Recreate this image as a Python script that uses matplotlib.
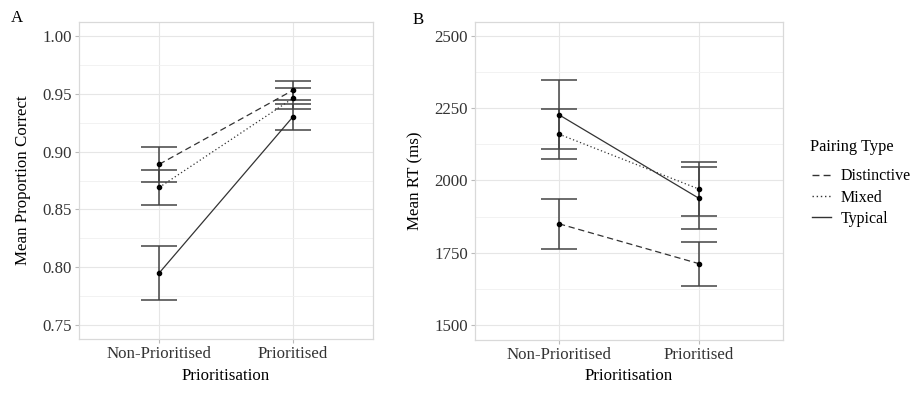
import numpy as np
import matplotlib
matplotlib.use("Agg")
import matplotlib.pyplot as plt
from matplotlib.lines import Line2D
from matplotlib.ticker import MultipleLocator

plt.rcParams["font.family"] = ["Liberation Serif", "DejaVu Serif"]

# ----------------------------------------------------------------------------
# Data
# ----------------------------------------------------------------------------
conditions = ["Non-Prioritised", "Prioritised"]
pairing_types = ["Distinctive", "Mixed", "Typical"]

acc_mean = {
    "Distinctive": [0.889, 0.953],
    "Mixed": [0.869, 0.946],
    "Typical": [0.795, 0.930],
}
acc_err = {
    "Distinctive": [0.015, 0.008],
    "Mixed": [0.015, 0.009],
    "Typical": [0.023, 0.011],
}

rt_mean = {
    "Distinctive": [1850, 1712],
    "Mixed": [2160, 1970],
    "Typical": [2227, 1938],
}
rt_err = {
    "Distinctive": [87, 76],
    "Mixed": [87, 93],
    "Typical": [119, 107],
}

linestyles = {"Distinctive": (0, (5, 3)), "Mixed": (0, (1, 2)), "Typical": "-"}

# ----------------------------------------------------------------------------
# Plot
# ----------------------------------------------------------------------------
W, H = 917, 394
FS = 12.2
fig = plt.figure(figsize=(W / 100, H / 100), dpi=100)


def px_axes(left, top, right, bottom):
    return fig.add_axes([left / W, 1 - bottom / H, (right - left) / W, (bottom - top) / H])


def style_axes(ax, major, minor):
    ax.set_facecolor("white")
    for s in ax.spines.values():
        s.set_color("#d9d9d9")
        s.set_linewidth(0.9)
    ax.yaxis.set_major_locator(MultipleLocator(major))
    ax.yaxis.set_minor_locator(MultipleLocator(minor))
    ax.grid(which="major", color="#e6e6e6", linewidth=0.8)
    ax.grid(which="minor", axis="y", color="#f0f0f0", linewidth=0.6)
    ax.tick_params(which="major", length=3, color="#bbbbbb", labelsize=FS,
                   labelcolor="#333333", pad=2)
    ax.tick_params(which="minor", length=0)
    ax.set_axisbelow(True)
    ax.set_xlim(0.4, 2.6)
    ax.set_xticks([1, 2])
    ax.set_xticklabels(conditions)
    ax.set_xlabel("Prioritisation", fontsize=FS, labelpad=4)


def draw(ax, means, errs):
    x = np.array([1, 2])
    for p in pairing_types:
        m = np.array(means[p], float)
        e = np.array(errs[p], float)
        ax.plot(x, m, color="#333333", lw=0.9, ls=linestyles[p], zorder=3)
        ax.errorbar(x, m, yerr=e, fmt="none", ecolor="#444444", elinewidth=1.1,
                    capsize=13, capthick=1.1, zorder=2)
        ax.scatter(x, m, s=9, color="black", zorder=4)


axA = px_axes(79, 22, 373, 339)
style_axes(axA, 0.05, 0.025)
draw(axA, acc_mean, acc_err)
axA.set_ylim(0.7379, 1.0121)
axA.set_yticklabels([f"{v:.2f}" for v in axA.get_yticks()])
axA.set_ylabel("Mean Proportion Correct", fontsize=FS, labelpad=8)

axB = px_axes(475, 22, 783, 340)
style_axes(axB, 250, 125)
draw(axB, rt_mean, rt_err)
axB.set_ylim(1448, 2548)
axB.set_ylabel("Mean RT (ms)", fontsize=FS, labelpad=8)

fig.text(17 / W, 1 - 18 / H, "A", fontsize=FS, ha="center", va="center")
fig.text(418 / W, 1 - 20 / H, "B", fontsize=FS, ha="center", va="center")

# legend
fig.text(810 / W, 1 - 147 / H, "Pairing Type", fontsize=11.8, ha="left", va="center")
handles = [Line2D([0], [0], color="#333333", lw=1.0, ls=linestyles[p]) for p in pairing_types]
fig.legend(handles, pairing_types, loc="upper left",
           bbox_to_anchor=(806 / W, 1 - 162 / H), frameon=False, fontsize=11.5,
           handlelength=1.15, handletextpad=0.6,
           labelspacing=0.32, borderaxespad=0)

fig.savefig("out.png", dpi=100)
